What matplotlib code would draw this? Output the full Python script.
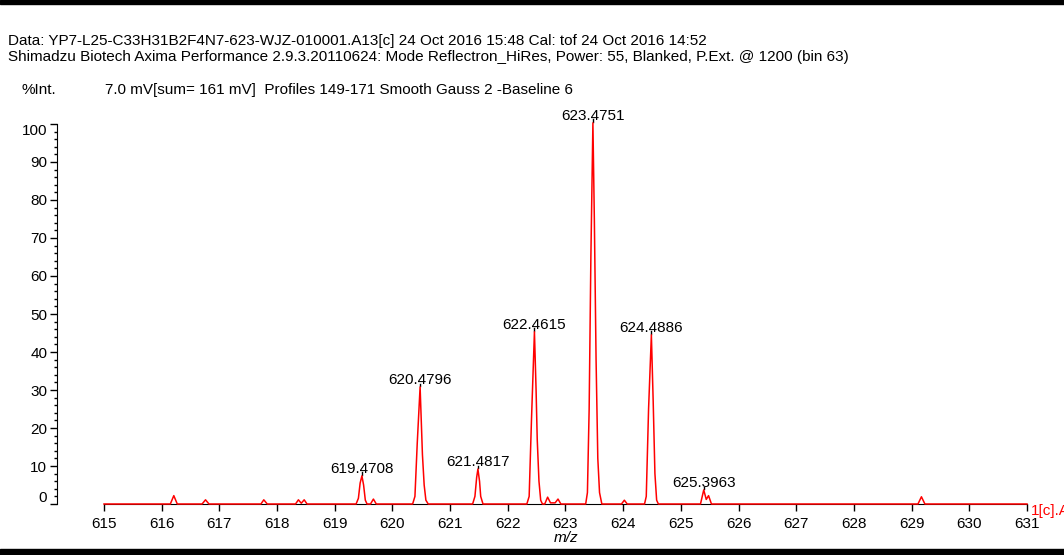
import numpy as np
import matplotlib
matplotlib.use('Agg')
import matplotlib.pyplot as plt
from matplotlib.ticker import MultipleLocator
from matplotlib.transforms import ScaledTranslation

plt.rcParams['font.family'] = ['Liberation Sans', 'DejaVu Sans']

# 谱线 (m/z, %Int.) 逐点读取
mz = [615.00, 616.15, 616.21, 616.27,
      616.70, 616.76, 616.82,
      617.72, 617.77, 617.83,
      618.32, 618.37, 618.42, 618.47, 618.52,
      619.37, 619.41, 619.44, 619.4708, 619.50, 619.53, 619.56,
      619.62, 619.67, 619.72,
      620.35, 620.39, 620.43, 620.4796, 620.52, 620.55, 620.58, 620.62,
      621.39, 621.43, 621.46, 621.4817, 621.51, 621.53, 621.57,
      622.33, 622.37, 622.41, 622.4615, 622.49, 622.51, 622.54, 622.57, 622.60,
      622.64, 622.69, 622.74, 622.82, 622.87, 622.92,
      623.35, 623.38, 623.41, 623.44, 623.4751, 623.50, 623.53, 623.56, 623.59, 623.63,
      623.97, 624.02, 624.07,
      624.37, 624.40, 624.44, 624.4886, 624.52, 624.55, 624.58, 624.61,
      625.34, 625.3963, 625.44, 625.48, 625.53,
      629.11, 629.17, 629.23, 631.00]
intensity = [0, 0, 2.2, 0,
             0, 1.1, 0,
             0, 1.1, 0,
             0, 1.1, 0.2, 1.1, 0,
             0, 1.5, 5.5, 7.4, 5.0, 1.0, 0,
             0, 1.3, 0,
             0, 2.0, 16.0, 30.8, 13.0, 5.0, 1.0, 0,
             0, 2.0, 7.0, 9.2, 6.0, 2.0, 0,
             0, 2.0, 22.0, 45.3, 30.0, 17.0, 6.0, 1.0, 0,
             0, 1.8, 0.3, 0.3, 1.3, 0,
             0, 3.0, 25.0, 65.0, 100.3, 75.0, 38.0, 12.0, 3.0, 0,
             0, 1.0, 0,
             0, 2.0, 25.0, 44.5, 27.0, 8.0, 1.0, 0,
             0, 3.7, 1.2, 2.2, 0,
             0, 1.9, 0, 0]

# 标注的峰
peak_labels = ['619.4708', '620.4796', '621.4817', '622.4615',
               '623.4751', '624.4886', '625.3963']
peak_heights = [7.4, 30.8, 9.2, 45.3, 100.3, 44.5, 3.7]

FS = 11
W, H = 1064, 555
fig = plt.figure(figsize=(W / 100, H / 100), dpi=100)

# 坐标轴: 左轴 x=57, 615 在 x=104, 631 在 x=1027, 0 在 y=504, 100 在 y=124
ax = fig.add_axes([57 / W, (H - 504) / H, (1027 - 57) / W, 380 / H])
ax.set_xlim(615 - 47 / 57.69, 631)
ax.set_ylim(0, 100)

ax.plot(mz, intensity, color='#ff0000', lw=1.1, clip_on=False, zorder=3)

for lab, h in zip(peak_labels, peak_heights):
    x = float(lab)
    ax.plot([x, x], [h + 0.2, h + 0.9], color='black', lw=1, clip_on=False)
    ax.annotate(lab, (x, h), xytext=(0, 2), textcoords='offset points',
                ha='center', va='baseline', fontsize=FS, annotation_clip=False)

for side in ['top', 'right']:
    ax.spines[side].set_visible(False)
ax.spines['bottom'].set_bounds(615, 631)
ax.spines['left'].set_bounds(0, 100)

ax.set_xticks(np.arange(615, 632, 1))
ax.set_yticks(np.arange(0, 101, 10))
ax.yaxis.set_minor_locator(MultipleLocator(2))
ax.tick_params(axis='both', which='major', direction='out', length=5,
               labelsize=FS, width=1)
ax.tick_params(axis='y', which='minor', direction='out', length=2.5, width=1)
ax.tick_params(axis='y', pad=2)
ax.tick_params(axis='x', pad=4)

# 端点刻度文字向内偏移
yticks = ax.yaxis.get_major_ticks()
yticks[0].label1.set_transform(yticks[0].label1.get_transform()
                               + ScaledTranslation(0, 0.08, fig.dpi_scale_trans))
yticks[-1].label1.set_transform(yticks[-1].label1.get_transform()
                                + ScaledTranslation(0, -0.06, fig.dpi_scale_trans))

ax.set_xlabel('m/z', fontstyle='italic', fontsize=FS, labelpad=1)
ax.xaxis.set_label_coords(0.525, -0.07)
ax.annotate('1[c].A', (1.0, 0.0), xycoords='axes fraction', xytext=(3, -5),
            textcoords='offset points', color='#ff0000', fontsize=FS,
            ha='left', va='center', annotation_clip=False)

# 顶部文字
fig.text(8 / W, 1 - 41 / H, 'Data: YP7-L25-C33H31B2F4N7-623-WJZ-010001.A13[c] 24 Oct 2016 15:48 '
         'Cal: tof 24 Oct 2016 14:52', fontsize=FS, va='center')
fig.text(8 / W, 1 - 57 / H, 'Shimadzu Biotech Axima Performance 2.9.3.20110624: Mode Reflectron_HiRes, '
         'Power: 55, Blanked, P.Ext. @ 1200 (bin 63)', fontsize=FS, va='center')
fig.text(22 / W, 1 - 90 / H, '%Int.', fontsize=FS, va='center')
fig.text(105 / W, 1 - 90 / H, '7.0 mV[sum= 161 mV]  Profiles 149-171 Smooth Gauss 2 -Baseline 6',
         fontsize=FS, va='center')

# 上下黑条
fig.patches.append(plt.Rectangle((0, 1 - 4 / H), 1, 4 / H, transform=fig.transFigure,
                                 color='black', zorder=10))
fig.patches.append(plt.Rectangle((0, 0), 1, 6 / H, transform=fig.transFigure,
                                 color='black', zorder=10))

fig.savefig('out.png', dpi=100)
